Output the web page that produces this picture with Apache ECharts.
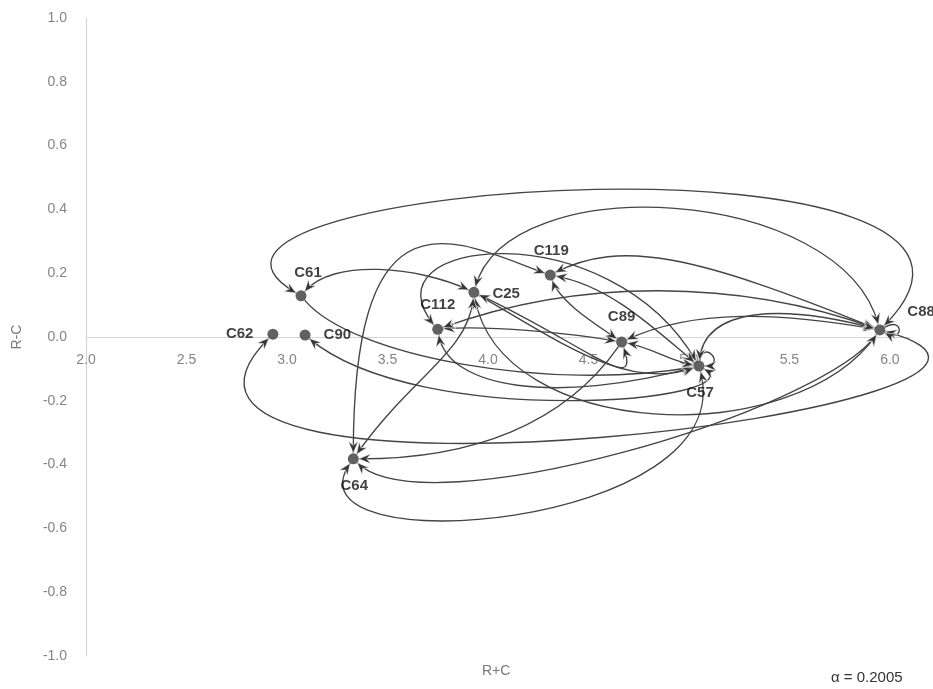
<!DOCTYPE html>
<html><head><meta charset="utf-8">
<script src="https://cdn.jsdelivr.net/npm/echarts@6/dist/echarts.min.js"></script>
<style>html,body{margin:0;padding:0;background:#fff}#c{width:933px;height:689px}</style>
</head><body><div id="c"></div>
<script>
// ---- data ----
const names    = ['C61','C62','C90','C112','C25','C119','C89','C57','C88','C64'];
const rPlusC   = [3.07, 2.93, 3.09, 3.75, 3.93, 4.31, 4.665, 5.05, 5.95, 3.33];
const rMinusC  = [0.129, 0.009, 0.006, 0.024, 0.14, 0.194, -0.016, -0.091, 0.022, -0.382];
const alphaText = 'α = 0.2005';
// influence links: [from, to, arrow at start, arrow at end]
const links = [
  ['C88','C61',1,1], ['C88','C25',1,1], ['C88','C119',1,1], ['C64','C119',1,1],
  ['C57','C112',1,1], ['C61','C25',1,1], ['C25','C89',1,1], ['C61','C57',0,1],
  ['C88','C62',1,1], ['C57','C90',1,1], ['C112','C89',1,1], ['C119','C89',1,1],
  ['C112','C57',1,1], ['C25','C88',1,1], ['C25','C57',0,1], ['C112','C88',1,1],
  ['C89','C88',1,1], ['C57','C88',1,1], ['C89','C57',1,1], ['C57','C57',0,1],
  ['C88','C88',0,1], ['C89','C64',0,1], ['C64','C25',1,1], ['C88','C64',1,1],
  ['C57','C64',1,1], ['C119','C57',1,1]
];
// ---- styles (curve shape: out angle, in angle, handle lengths in px) ----
const linkShape = [
  [45,150,300,230], [105,75,150,130], [158,27,200,80], [90,160,280,100],
  [120,130,180,120], [50,155,50,60], [-25,-70,120,60], [-50,190,80,150],
  [-15,-135,285,290], [-30,-40,70,150], [5,170,50,50], [-70,145,30,30],
  [-80,195,60,150], [-80,-125,150,150], [-30,200,100,75], [20,160,150,150],
  [25,170,80,100], [85,165,60,100], [-10,170,30,30], [80,0,28,28],
  [30,-30,28,28], [-125,0,100,120], [55,-95,100,60], [-125,-45,100,100],
  [-75,-125,170,130], [-10,140,60,60]
];
const labelStyle = {
  C61:['top',7,-5], C62:['left',-9,0], C90:['right',8,0], C112:['top',0,-6],
  C25:['right',8,2], C119:['top',1,-6], C89:['top',0,-7], C57:['bottom',1,9],
  C88:['right',17,-18], C64:['bottom',1,9]
};

const idx = n => names.indexOf(n);
const nodeData = names.map((n,i) => ({
  name: n, value: [rPlusC[i], rMinusC[i]],
  label: { position: labelStyle[n][0], offset: [labelStyle[n][1], labelStyle[n][2]] }
}));
const linkData = links.map(l => [rPlusC[idx(l[0])], rMinusC[idx(l[0])], rPlusC[idx(l[1])], rMinusC[idx(l[1])]]);

const LINE = '#444444', HEAD = '#363636';
function dirOf(deg){ const a = deg*Math.PI/180; return [Math.cos(a), -Math.sin(a)]; }
function arrowHead(tip, d){
  const len = 12, w = 5, notch = 8;
  const px = -d[1], py = d[0];
  const bx = tip[0]+d[0]*len, by = tip[1]+d[1]*len;
  return { type:'polygon', z2: 5,
    shape:{ points:[ tip, [bx+px*w, by+py*w], [tip[0]+d[0]*notch, tip[1]+d[1]*notch], [bx-px*w, by-py*w] ] },
    style:{ fill: HEAD, stroke:'#ffffff', lineWidth:0.6 } };
}
function renderLink(params, api){
  const i = params.dataIndex, L = links[i], S = linkShape[i];
  const a = api.coord([api.value(0), api.value(1)]);
  const b = api.coord([api.value(2), api.value(3)]);
  const r = 5.5;
  const dO = dirOf(S[0]), dI = dirOf(S[1]);
  const p0 = [a[0]+r*dO[0], a[1]+r*dO[1]];
  const p3 = [b[0]+r*dI[0], b[1]+r*dI[1]];
  const p1 = [a[0]+S[2]*dO[0], a[1]+S[2]*dO[1]];
  const p2 = [b[0]+S[3]*dI[0], b[1]+S[3]*dI[1]];
  const children = [{ type:'bezierCurve',
    shape:{ x1:p0[0], y1:p0[1], x2:p3[0], y2:p3[1], cpx1:p1[0], cpy1:p1[1], cpx2:p2[0], cpy2:p2[1] },
    style:{ stroke: LINE, lineWidth: 1.35, fill: null } }];
  if (L[3]) children.push(arrowHead(p3, dI));
  if (L[2]) children.push(arrowHead(p0, dO));
  return { type:'group', children };
}

const GRID_H = 689 - 18 - 33;
const chart = echarts.init(document.getElementById('c'), null, {renderer:'canvas'});
chart.setOption({
  animation: false,
  backgroundColor: '#ffffff',
  grid: { left: 86, right: 23, top: 18, bottom: 33, containLabel: false },
  xAxis: {
    type:'value', min: 2, max: 6.1, interval: 0.5, position:'bottom', offset: -GRID_H/2,
    axisLine:{ onZero: false, lineStyle:{ color:'#d4d4d4', width:1.2 } },
    axisTick:{ show:false }, splitLine:{ show:false },
    axisLabel:{ showMaxLabel:false, margin: 16, color:'#858585', fontSize:14,
      fontFamily:'Liberation Sans, Arial, sans-serif', formatter: v => v.toFixed(1) }
  },
  yAxis: {
    type:'value', min:-1, max:1, interval:0.2,
    name:'R-C', nameLocation:'middle', nameGap: 62, nameRotate: 90,
    nameTextStyle:{ color:'#7a7a7a', fontSize:14, fontFamily:'Liberation Sans, Arial, sans-serif' },
    axisLine:{ show:true, onZero:false, lineStyle:{ color:'#d4d4d4', width:1.2 } },
    axisTick:{ show:false }, splitLine:{ show:false },
    axisLabel:{ margin: 19, color:'#858585', fontSize:14,
      fontFamily:'Liberation Sans, Arial, sans-serif', formatter: v => v.toFixed(1) }
  },
  graphic: [
    { type:'text', left: 482, top: 664, style:{ text:'R+C', fill:'#7a7a7a', font:'14px "Liberation Sans", Arial, sans-serif' } },
    { type:'text', left: 831, top: 670, style:{ text: alphaText, fill:'#333333', font:'15px "Liberation Sans", Arial, sans-serif' } }
  ],
  series: [
    { type:'custom', coordinateSystem:'cartesian2d', renderItem: renderLink, data: linkData,
      encode:{ x:[0,2], y:[1,3] }, clip:false, z: 2, silent: true },
    { type:'scatter', data: nodeData, symbol:'circle', symbolSize: 11, z: 5,
      itemStyle:{ color:'#3a3a3a' },
      label:{ show:true, formatter: p => p.name, color:'#111111', fontSize:15, fontWeight:'bold',
        fontFamily:'Liberation Sans, Arial, sans-serif', distance: 5 } }
  ]
});
</script></body></html>
